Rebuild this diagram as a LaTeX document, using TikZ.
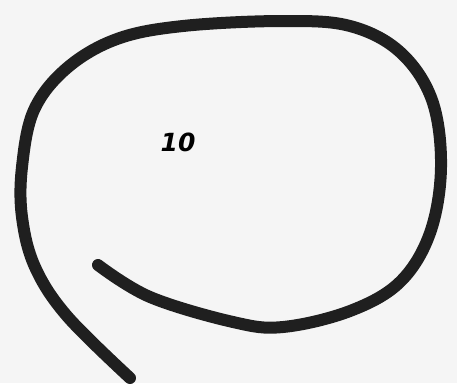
\documentclass[tikz,border=0pt]{standalone}
\usepackage{fontspec}
\setmainfont{DejaVu Sans}
\begin{document}
\begin{tikzpicture}[x=1pt,y=-1pt,
  stroke/.style={line width=12pt,draw=black!88,line cap=round,line join=round},
  lbl/.style={font=\fontsize{25}{25}\selectfont\bfseries\itshape,text=black}]
\useasboundingbox[fill=black!4] (0,0) rectangle (457,383);
\draw[stroke] plot[smooth,tension=0.6] coordinates{
 (98,265) (150,297) (233,322) (283,327) (350,311) (400,282) (430,233)
 (441,167) (432,100) (400,52) (350,26) (283,21) (183,26) (117,39) (67,68)
 (34,110) (22,167) (22,217) (35,267) (67,316) (130,378)};
\node[lbl] (ten) at (178,142) {10};
\end{tikzpicture}
\end{document}
